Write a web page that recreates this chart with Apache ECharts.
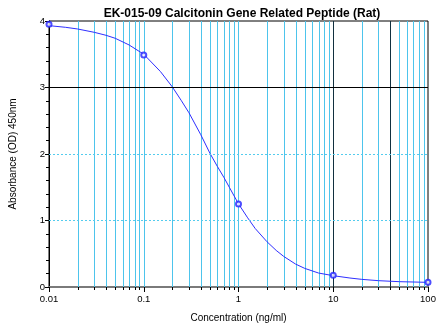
<!DOCTYPE html>
<html>
<head>
<meta charset="utf-8">
<script src="https://cdn.jsdelivr.net/npm/echarts@6/dist/echarts.min.js"></script>
<style>html,body{margin:0;padding:0;background:#fff}#c{width:440px;height:328px}</style>
</head>
<body>
<div id="c"></div>
<script>
// Standards (measured points)
const stdConc = [0.01, 0.1, 1, 10, 100];
const stdOD = [3.95, 3.49, 1.25, 0.175, 0.07];
// Fitted curve
const curveConc = [0.01, 0.015, 0.02, 0.03, 0.04, 0.05, 0.07, 0.1, 0.15, 0.2, 0.25, 0.3, 0.4, 0.5, 0.6, 0.7, 0.8, 1, 1.25, 1.5, 2, 2.5, 3, 4, 5, 7, 10, 15, 20, 30, 50, 100];
const curveOD = [3.93, 3.905, 3.88, 3.83, 3.785, 3.74, 3.64, 3.50, 3.24, 3.01, 2.80, 2.62, 2.29, 2.01, 1.81, 1.65, 1.50, 1.25, 1.04, 0.88, 0.68, 0.55, 0.46, 0.345, 0.28, 0.21, 0.17, 0.135, 0.115, 0.095, 0.08, 0.07];
// Grid lines
const minorGridX = [0.02,0.03,0.04,0.05,0.06,0.07,0.08,0.09,0.1,0.2,0.3,0.4,0.5,0.6,0.7,0.8,0.9,1,2,3,4,5,6,7,8,9,20,30,50,60,70,80,90];
const darkGridX = [10, 40];
const xTickLabels = ['0.01', '0.1', '1', '10', '100'];
const dottedGridY = [1, 2];
const solidGridY = [3];

const chart = echarts.init(document.getElementById('c'), null, {renderer: 'canvas'});
const FONT = 'Liberation Sans, Arial, sans-serif';

function vline(color, tickLen) {
  return function (params, api) {
    const t = api.coord([api.value(0), 4]);
    const b = api.coord([api.value(0), 0]);
    const x = Math.round(t[0]) + 0.5;
    return {
      type: 'group',
      children: [
        {type: 'line', shape: {x1: x, y1: t[1], x2: x, y2: b[1]}, style: {stroke: color, lineWidth: 1}},
        {type: 'line', shape: {x1: x, y1: b[1], x2: x, y2: b[1] + tickLen}, style: {stroke: '#000', lineWidth: 1}}
      ]
    };
  };
}

chart.setOption({
  animation: false,
  backgroundColor: '#fff',
  title: {
    text: 'EK-015-09 Calcitonin Gene Related Peptide (Rat)',
    left: 237, top: 3, textAlign: 'center',
    textStyle: {fontFamily: FONT, fontSize: 12, fontWeight: 'bold', color: '#000'}
  },
  grid: {left: 45, right: 12, top: 21, bottom: 40, show: true, borderColor: '#000', borderWidth: 1},
  xAxis: {
    type: 'log', logBase: 10, min: 0.01, max: 100,
    name: 'Concentration (ng/ml)', nameLocation: 'middle', nameGap: 26,
    nameTextStyle: {fontFamily: FONT, fontSize: 10, color: '#000'},
    axisLine: {lineStyle: {color: '#7a7a7a', width: 2}},
    axisTick: {show: true, length: 5, lineStyle: {color: '#000'}},
    splitLine: {show: false},
    axisLabel: {
      fontFamily: FONT, fontSize: 9.5, color: '#000', margin: 7,
      formatter: function (v) {
        const i = Math.round(Math.log10(v)) + 2;
        return xTickLabels[i] !== undefined ? xTickLabels[i] : '';
      }
    }
  },
  yAxis: {
    type: 'value', min: 0, max: 4, interval: 1,
    name: 'Absorbance (OD) 450nm', nameLocation: 'middle', nameGap: 31, nameRotate: 90,
    nameTextStyle: {fontFamily: FONT, fontSize: 10, color: '#000'},
    axisLine: {show: true, lineStyle: {color: '#000', width: 1}},
    axisTick: {show: true, length: 4, lineStyle: {color: '#000'}},
    minorTick: {show: true, splitNumber: 5, length: 3, lineStyle: {color: '#000'}},
    splitLine: {show: false},
    axisLabel: {fontFamily: FONT, fontSize: 9.5, color: '#000', margin: 4}
  },
  series: [
    {
      type: 'custom', z: 1, silent: true,
      renderItem: vline('#4dc4ec', 3),
      encode: {x: 0, y: 1},
      data: minorGridX.map(v => [v, 0])
    },
    {
      type: 'custom', z: 2, silent: true,
      renderItem: vline('#12303f', 3),
      encode: {x: 0, y: 1},
      data: darkGridX.map(v => [v, 0])
    },
    {
      type: 'line', z: 2, silent: true, data: [], symbol: 'none',
      markLine: {
        silent: true, symbol: 'none', label: {show: false}, animation: false,
        data: dottedGridY.map(v => ({yAxis: v, lineStyle: {color: '#55ccee', type: [2, 2], width: 1}}))
          .concat(solidGridY.map(v => ({yAxis: v, lineStyle: {color: '#000', type: 'solid', width: 1}})))
      }
    },
    {
      type: 'line', z: 3, smooth: false, showSymbol: false, silent: true,
      lineStyle: {color: '#2f2fff', width: 1},
      data: curveConc.map((c, i) => [c, curveOD[i]])
    },
    {
      type: 'scatter', z: 4, symbol: 'emptyCircle', symbolSize: 5, silent: true,
      itemStyle: {color: '#2020ff', borderColor: '#2020ff', borderWidth: 1.5},
      data: stdConc.map((c, i) => [c, stdOD[i]])
    }
  ]
});
</script>
</body>
</html>
